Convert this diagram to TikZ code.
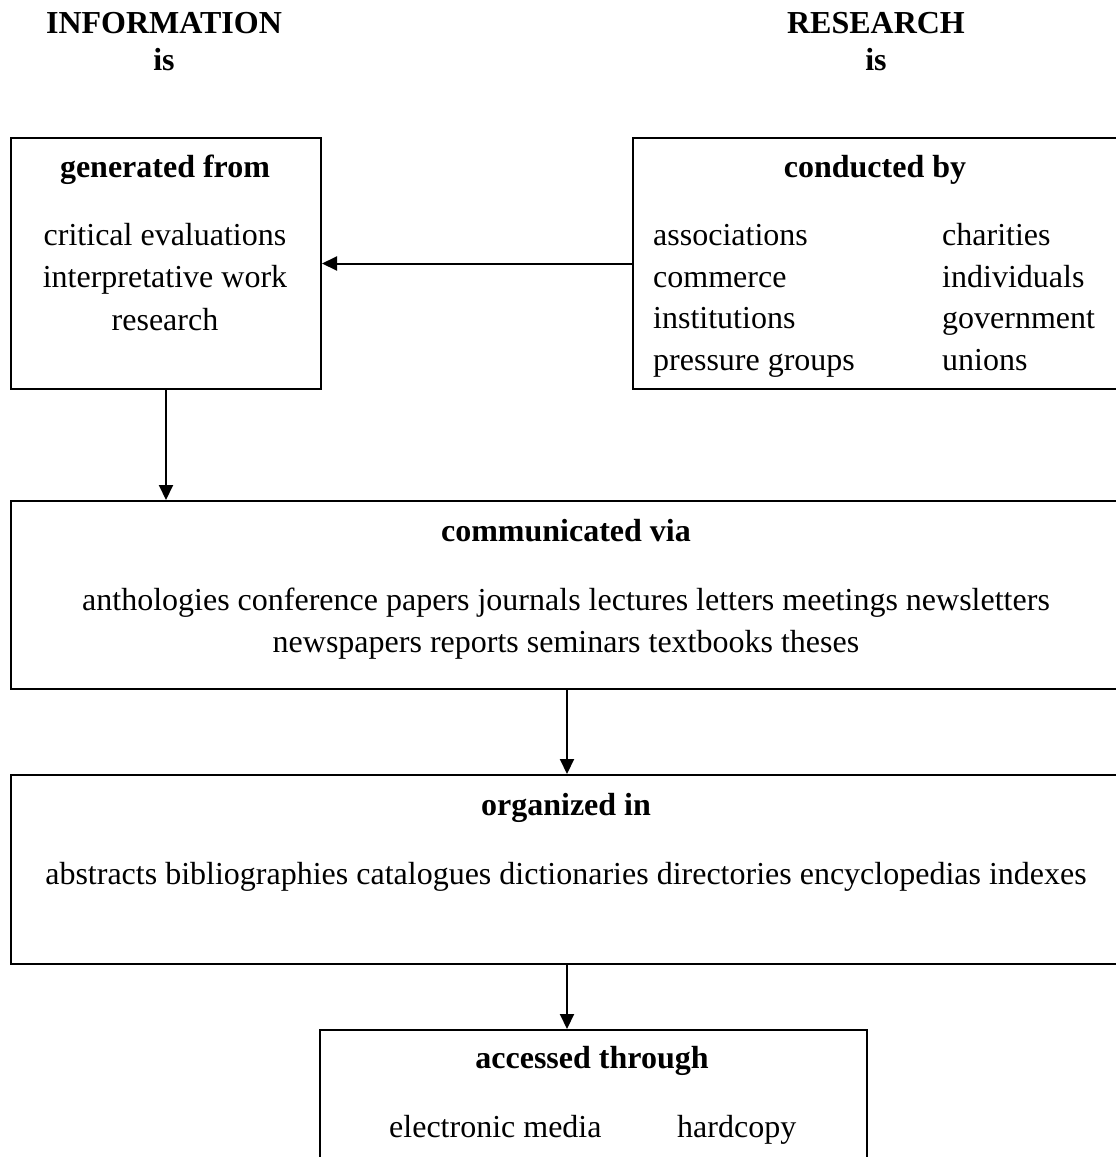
\documentclass[tikz,border=0pt]{standalone}
\usepackage{fontspec}
\setmainfont{Liberation Serif}
\usetikzlibrary{arrows.meta}
\begin{document}
\begin{tikzpicture}[x=1pt,y=-1pt,
  box/.style={draw,line width=2pt,inner sep=0pt,anchor=north west},
  txt/.style={inner sep=0pt,anchor=base,font=\fontsize{32}{42}\selectfont},
  hdr/.style={txt,font=\fontsize{32}{42}\selectfont\bfseries},
  lft/.style={txt,anchor=base west},
  arr/.style={line width=2pt,-{Triangle[length=15pt,width=14pt]}}]
\clip (0,0) rectangle (1116,1157);
\fill[white] (0,0) rectangle (1116,1157);

% column headings
\node[hdr] (infoT) at (164,33) {INFORMATION};
\node[hdr] (infoI) at (164,70) {is};
\node[hdr] (resT) at (876,33) {RESEARCH};
\node[hdr] (resI) at (876,70) {is};

% boxes
\node[box,minimum width=310pt,minimum height=251pt] (gen) at (10,137) {};
\node[box,minimum width=500pt,minimum height=251pt] (cond) at (632,137) {};
\node[box,minimum width=1112pt,minimum height=188pt] (comm) at (10,500) {};
\node[box,minimum width=1112pt,minimum height=189pt] (org) at (10,774) {};
\node[box,minimum width=547pt,minimum height=180pt] (acc) at (319,1029) {};

% generated from
\node[hdr] (genH) at (165,177) {generated from};
\node[txt] (gen1) at (165,245) {critical evaluations};
\node[txt] (gen2) at (165,287) {interpretative work};
\node[txt] (gen3) at (165,330) {research};

% conducted by
\node[hdr] (condH) at (875,177) {conducted by};
\node[lft] (c1) at (653,245) {associations};
\node[lft] (c2) at (653,287) {commerce};
\node[lft] (c3) at (653,328) {institutions};
\node[lft] (c4) at (653,370) {pressure groups};
\node[lft] (c5) at (942,245) {charities};
\node[lft] (c6) at (942,287) {individuals};
\node[lft] (c7) at (942,328) {government};
\node[lft] (c8) at (942,370) {unions};

% communicated via
\node[hdr] (commH) at (566,541) {communicated via};
\node[txt] (comm1) at (566,610) {anthologies conference papers journals lectures letters meetings newsletters};
\node[txt] (comm2) at (566,652) {newspapers reports seminars textbooks theses};

% organized in
\node[hdr] (orgH) at (566,815) {organized in};
\node[txt] (org1) at (566,884) {abstracts bibliographies catalogues dictionaries directories encyclopedias indexes};

% accessed through
\node[hdr] (accH) at (592,1068) {accessed through};
\node[lft] (acc1) at (389,1137) {electronic media};
\node[lft] (acc2) at (677,1137) {hardcopy};

% connectors
\draw[arr] (cond.west) -- (gen.east);
\draw[arr] (gen.south) -- (gen.south |- comm.north);
\draw[arr] (comm.south) -- (org.north);
\draw[arr] (org.south) -- (org.south |- acc.north);
\end{tikzpicture}
\end{document}
